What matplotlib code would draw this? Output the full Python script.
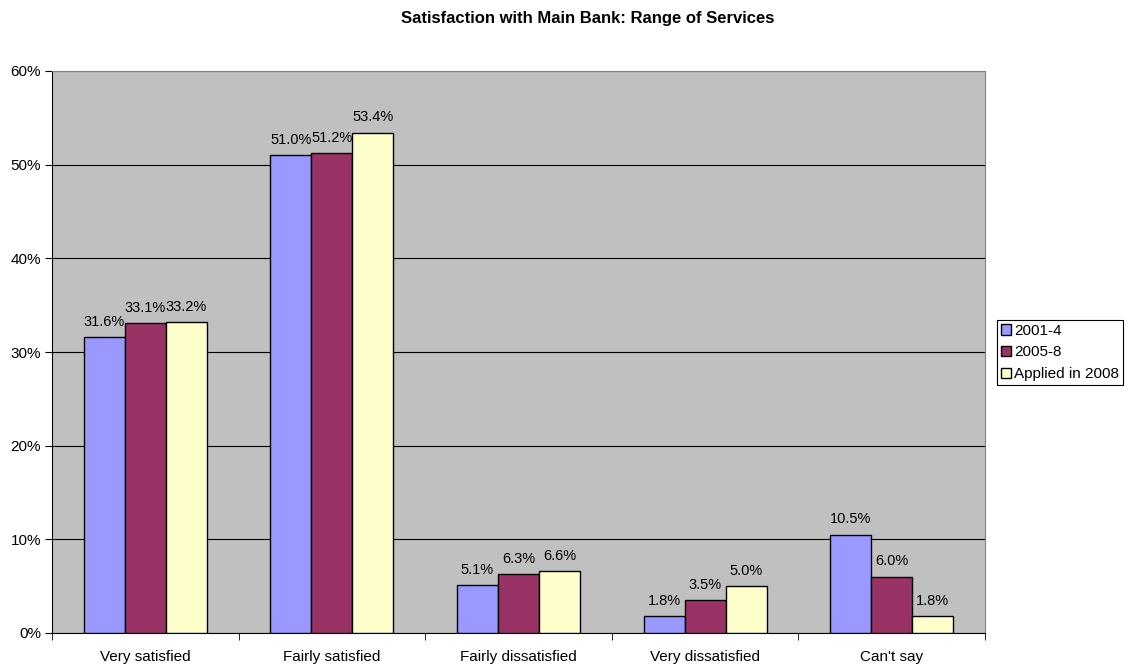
import matplotlib
matplotlib.use("Agg")
import matplotlib.pyplot as plt
import numpy as np

plt.rcParams['font.family'] = ['Liberation Sans', 'DejaVu Sans']

categories = ["Very satisfied", "Fairly satisfied", "Fairly dissatisfied", "Very dissatisfied", "Can't say"]
series_names = ["2001-4", "2005-8", "Applied in 2008"]
s2001_4 = [31.6, 51.0, 5.1, 1.8, 10.5]
s2005_8 = [33.1, 51.2, 6.3, 3.5, 6.0]
s2008 = [33.2, 53.4, 6.6, 5.0, 1.8]
colors = ["#9999FF", "#993366", "#FFFFCC"]
yticks = [0, 10, 20, 30, 40, 50, 60]

fig = plt.figure(figsize=(11.28, 6.69), dpi=100)
ax = fig.add_axes([52/1128, 1-633/669, (985-52)/1128, (633-71)/669])
ax.set_facecolor("#C0C0C0")

x = np.arange(len(categories))
w = 0.22
for i, (vals, name, c) in enumerate(zip([s2001_4, s2005_8, s2008], series_names, colors)):
    pos = x + (i - 1) * w
    bars = ax.bar(pos, vals, width=w, color=c, edgecolor="black", linewidth=1.0, label=name, zorder=3)
    for b, v in zip(bars, vals):
        ax.text(b.get_x() + b.get_width()/2, v + 0.9, f"{v:.1f}%", ha="center", va="bottom", fontsize=10.5, zorder=4)

ax.set_xlim(-0.5, len(categories) - 0.5)
ax.set_ylim(0, 60)
ax.set_yticks(yticks)
ax.set_yticklabels([f"{t}%" for t in yticks], fontsize=11)
ax.yaxis.grid(True, color="black", linewidth=0.8, zorder=0)
ax.set_axisbelow(True)

ax.set_xticks(x)
ax.set_xticklabels(categories, fontsize=11)
ax.tick_params(axis="x", length=0, pad=12)
ax.set_xticks(np.arange(-0.5, len(categories) + 0.5, 1), minor=True)
ax.tick_params(axis="x", which="minor", length=5, direction="out", color="black")
ax.tick_params(axis="y", length=5, direction="out", color="black", pad=3)

for side in ["top", "right"]:
    ax.spines[side].set_color("#808080")
for side in ["left", "bottom"]:
    ax.spines[side].set_color("black")

fig.text(587.5/1128, 1 - 18/669, "Satisfaction with Main Bank: Range of Services", ha="center", va="center",
         fontsize=12, fontweight="bold")

leg = ax.legend(loc="center left", bbox_to_anchor=(997/1128, 1-352.5/669), bbox_transform=fig.transFigure,
                fontsize=11, frameon=True, fancybox=False, edgecolor="black", framealpha=1,
                handlelength=0.65, handleheight=0.65, handletextpad=0.2, borderpad=0.25, labelspacing=0.5,
                borderaxespad=0)
leg.get_frame().set_linewidth(0.8)

fig.savefig("out.png", dpi=100, facecolor="white")
